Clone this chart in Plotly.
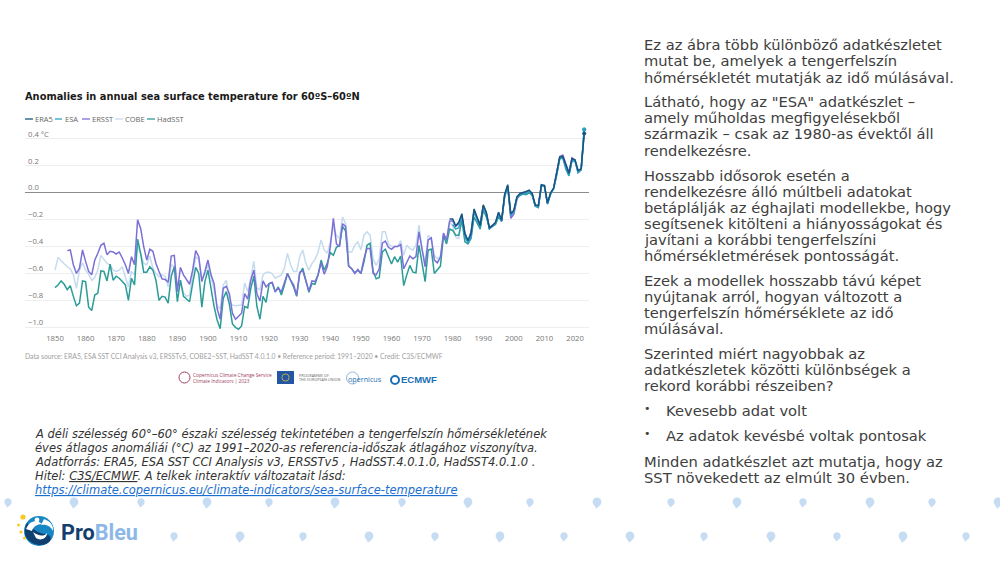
import plotly.graph_objects as go

W, H = 1000, 563

# ---------- data ----------
years_hadsst = list(range(1850, 2024))
hadsst = [-0.705,-0.685,-0.655,-0.68,-0.72,-0.69,-0.77,-0.84,-0.82,-0.655,-0.66,-0.85,-0.875,-0.76,-0.745,-0.58,-0.585,-0.655,-0.53,-0.65,
          -0.62,-0.635,-0.66,-0.685,-0.80,-0.635,-0.685,-0.345,-0.45,-0.59,-0.59,-0.55,-0.575,-0.65,-0.80,-0.77,-0.775,-0.82,-0.62,-0.55,
          -0.81,-0.65,-0.77,-0.79,-0.81,-0.675,-0.555,-0.60,-0.85,-0.66,-0.575,-0.71,-0.845,-0.945,-1.01,-0.785,-0.735,-0.83,-0.975,-1.0,
          -1.015,-0.99,-0.845,-0.855,-0.71,-0.62,-0.845,-0.94,-0.77,-0.815,-0.675,-0.67,-0.735,-0.70,-0.76,-0.685,-0.60,-0.65,-0.70,-0.77,
          -0.60,-0.56,-0.66,-0.74,-0.675,-0.68,-0.61,-0.50,-0.575,-0.525,-0.445,-0.465,-0.405,-0.39,-0.25,-0.285,-0.545,-0.565,-0.595,-0.575,
          -0.60,-0.515,-0.39,-0.375,-0.585,-0.64,-0.63,-0.44,-0.42,-0.475,-0.53,-0.475,-0.515,-0.47,-0.69,-0.61,-0.54,-0.59,-0.595,-0.39,
          -0.525,-0.66,-0.425,-0.42,-0.60,-0.57,-0.545,-0.315,-0.38,-0.27,-0.28,-0.315,-0.315,-0.205,-0.365,-0.38,-0.34,-0.18,-0.23,-0.27,
          -0.13,-0.18,-0.26,-0.25,-0.235,-0.18,-0.21,-0.03,0.04,-0.17,-0.14,-0.04,-0.02,-0.01,-0.015,0.0,-0.02,-0.10,-0.11,0.05,
          0.05,-0.08,-0.01,0.03,0.13,0.25,0.26,0.19,0.13,0.24,0.235,0.16,0.175,0.47]

years_ersst = list(range(1854, 2024))
ersst = [-0.43,-0.425,-0.535,-0.60,-0.56,-0.425,-0.51,-0.585,-0.61,-0.50,-0.45,-0.39,-0.375,-0.46,-0.435,-0.44,
         -0.455,-0.44,-0.485,-0.535,-0.60,-0.475,-0.535,-0.20,-0.265,-0.40,-0.50,-0.42,-0.435,-0.525,-0.585,-0.64,-0.645,-0.665,-0.47,-0.465,
         -0.735,-0.555,-0.61,-0.65,-0.68,-0.575,-0.43,-0.475,-0.66,-0.585,-0.50,-0.61,-0.675,-0.86,-0.94,-0.71,-0.695,-0.75,-0.895,-0.94,
         -0.92,-0.895,-0.75,-0.79,-0.65,-0.575,-0.75,-0.805,-0.655,-0.70,-0.675,-0.665,-0.735,-0.71,-0.735,-0.675,-0.60,-0.65,-0.685,-0.76,
         -0.59,-0.58,-0.66,-0.73,-0.655,-0.66,-0.61,-0.52,-0.605,-0.55,-0.40,-0.19,-0.38,-0.40,-0.23,-0.25,-0.545,-0.565,-0.60,-0.57,
         -0.60,-0.49,-0.415,-0.415,-0.60,-0.61,-0.565,-0.375,-0.36,-0.405,-0.42,-0.40,-0.40,-0.385,-0.565,-0.52,-0.47,-0.49,-0.475,-0.29,
         -0.43,-0.55,-0.35,-0.335,-0.50,-0.52,-0.48,-0.30,-0.35,-0.21,-0.21,-0.25,-0.23,-0.17,-0.30,-0.36,-0.29,-0.13,-0.195,-0.225,
         -0.10,-0.15,-0.265,-0.24,-0.225,-0.15,-0.21,-0.02,0.05,-0.19,-0.16,-0.05,-0.01,0.0,0.005,0.01,-0.01,-0.095,-0.10,0.055,
         0.05,-0.08,-0.005,0.035,0.14,0.27,0.28,0.21,0.15,0.26,0.24,0.15,0.17,0.45]

years_cobe = list(range(1850, 1985))
cobe = [-0.575,-0.48,-0.505,-0.53,-0.55,-0.565,-0.61,-0.71,-0.575,-0.52,-0.575,-0.605,-0.65,-0.63,-0.575,-0.465,-0.495,-0.525,-0.535,-0.575,
        -0.585,-0.575,-0.55,-0.635,-0.70,-0.585,-0.61,-0.39,-0.45,-0.525,-0.535,-0.47,-0.56,-0.60,-0.625,-0.61,-0.62,-0.70,-0.535,-0.55,
        -0.685,-0.65,-0.745,-0.77,-0.76,-0.625,-0.475,-0.495,-0.635,-0.61,-0.535,-0.625,-0.72,-0.845,-0.86,-0.685,-0.65,-0.80,-0.835,-0.84,
        -0.84,-0.835,-0.67,-0.735,-0.635,-0.51,-0.71,-0.72,-0.61,-0.59,-0.59,-0.60,-0.635,-0.625,-0.61,-0.56,-0.45,-0.535,-0.585,-0.585,
        -0.475,-0.425,-0.525,-0.575,-0.525,-0.495,-0.44,-0.35,-0.425,-0.45,-0.365,-0.255,-0.315,-0.34,-0.18,-0.23,-0.44,-0.44,-0.39,-0.365,
        -0.425,-0.315,-0.29,-0.315,-0.49,-0.54,-0.49,-0.29,-0.29,-0.38,-0.40,-0.40,-0.40,-0.355,-0.465,-0.39,-0.415,-0.425,-0.39,-0.24,
        -0.425,-0.515,-0.315,-0.34,-0.465,-0.49,-0.475,-0.33,-0.365,-0.22,-0.245,-0.33,-0.34,-0.18,-0.305]
years_cobe2 = list(range(1985, 2024))
cobe2 = [-0.36,-0.30,-0.13,-0.19,-0.24,-0.10,-0.15,-0.26,-0.245,-0.225,-0.15,-0.21,-0.02,0.05,-0.17,-0.14,-0.04,-0.01,0.0,0.0,
         0.01,-0.015,-0.09,-0.10,0.05,0.05,-0.08,-0.01,0.03,0.13,0.26,0.27,0.20,0.14,0.25,0.24,0.16,0.175,0.46]

years_esa = list(range(1980, 2024))
esa = [-0.235,-0.27,-0.26,-0.17,-0.33,-0.37,-0.33,-0.14,-0.20,-0.26,-0.10,-0.16,-0.27,-0.25,-0.23,-0.16,-0.215,-0.02,0.05,-0.165,
       -0.14,-0.035,-0.015,-0.005,-0.005,0.01,-0.01,-0.10,-0.105,0.05,0.05,-0.085,-0.01,0.03,0.13,0.255,0.26,0.175,0.125,0.24,
       0.235,0.15,0.17,0.47]

years_era5 = list(range(1979, 2024))
era5 = [-0.195,-0.195,-0.245,-0.22,-0.155,-0.305,-0.355,-0.305,-0.12,-0.18,-0.245,-0.09,-0.145,-0.26,-0.245,-0.22,-0.145,-0.205,-0.01,0.06,
        -0.155,-0.13,-0.03,-0.005,0.0,0.01,0.02,-0.005,-0.09,-0.095,0.06,0.055,-0.075,0.0,0.035,0.14,0.265,0.27,0.205,0.145,
        0.255,0.245,0.165,0.18,0.44]

series_names = ["ERA5", "ESA", "ERSST", "COBE", "HadSST"]
series_colors = ["#17557f", "#2f9fc8", "#7a70d6", "#c5dbef", "#2b9c98"]

x_ticks = list(range(1850, 2030, 10))
y_ticks = [0.4, 0.2, 0.0, -0.2, -0.4, -0.6, -0.8, -1.0]
y_tick_labels = ["0.4 °C", "0.2", "0.0", "−0.2", "−0.4", "−0.6", "−0.8", "−1.0"]

title_text = "Anomalies in annual sea surface temperature for 60ºS–60ºN"
source_text = "Data source: ERA5, ESA SST CCI Analysis v3, ERSSTv5, COBE2−SST, HadSST 4.0.1.0 • Reference period: 1991–2020 • Credit: C3S/ECMWF"

caption_lines = [
    (434, "<i>A déli szélesség 60°–60° északi szélesség tekintetében a tengerfelszín hőmérsékletének</i>"),
    (448, "<i>éves átlagos anomáliái (°C) az 1991–2020-as referencia-időszak átlagához viszonyítva.</i>"),
    (462, "<i>Adatforrás: ERA5, ESA SST CCI Analysis v3, ERSSTv5 , HadSST.4.0.1.0, HadSST4.0.1.0 .</i>"),
    (476, "<i>Hitel: <u>C3S/ECMWF</u>. A telkek interaktív változatait lásd:</i>"),
]
link_line = "https://climate.copernicus.eu/climate-indicators/sea-surface-temperature"

body_lines = [
    (44.5, 644, "Ez az ábra több különböző adatkészletet"),
    (60.5, 644, "mutat be, amelyek a tengerfelszín"),
    (77.5, 644, "hőmérsékletét mutatják az idő múlásával."),
    (101.5, 644, "Látható, hogy az \"ESA\" adatkészlet –"),
    (117.5, 644, "amely műholdas megfigyelésekből"),
    (133.5, 644, "származik – csak az 1980-as évektől áll"),
    (150.5, 644, "rendelkezésre."),
    (175.5, 644, "Hosszabb idősorok esetén a"),
    (191.5, 644, "rendelkezésre álló múltbeli adatokat"),
    (207.5, 644, "betáplálják az éghajlati modellekbe, hogy"),
    (223.5, 644, "segítsenek kitölteni a hiányosságokat és"),
    (239.5, 644, "javítani a korábbi tengerfelszíni"),
    (255.5, 644, "hőmérsékletmérések pontosságát."),
    (280.5, 644, "Ezek a modellek hosszabb távú képet"),
    (296.5, 644, "nyújtanak arról, hogyan változott a"),
    (312.5, 644, "tengerfelszín hőmérséklete az idő"),
    (328.5, 644, "múlásával."),
    (353.5, 644, "Szerinted miért nagyobbak az"),
    (369.5, 644, "adatkészletek közötti különbségek a"),
    (385.5, 644, "rekord korábbi részeiben?"),
    (410.5, 666, "Kevesebb adat volt"),
    (435.5, 666, "Az adatok kevésbé voltak pontosak"),
    (461.5, 644, "Minden adatkészlet azt mutatja, hogy az"),
    (477.5, 644, "SST növekedett az elmúlt 30 évben."),
]

drop_row1_x = [8, 74, 141, 207, 269, 335, 402, 468, 530, 597, 671, 737, 803, 870, 932, 998]
drop_row2_x = [174, 240, 303, 369, 435, 500, 564, 630, 704, 771, 837, 903, 966]

# ---------- helpers ----------
def px(x): return x / W
def py(y): return 1 - y / H

def text(x, y, s, size, color, family="DejaVu Sans", anchor="left"):
    return dict(xref="paper", yref="paper", x=px(x), y=py(y), text=s, showarrow=False,
                xanchor=anchor, yanchor="middle", align="left",
                font=dict(size=size, color=color, family=family),
                borderpad=0, borderwidth=0)

def path(cmds, fill, line=None, lw=0):
    out = []
    for c in cmds:
        if isinstance(c, str):
            out.append(c)
        else:
            out.append(f"{px(c[0]):.5f},{py(c[1]):.5f}")
    return dict(type="path", xref="paper", yref="paper", path=" ".join(out), fillcolor=fill,
                line=dict(width=lw, color=line or fill), layer="above")

def circle(cx, cy, r, fill, line=None, lw=0):
    return dict(type="circle", xref="paper", yref="paper", x0=px(cx - r), x1=px(cx + r),
                y0=py(cy + r), y1=py(cy - r), fillcolor=fill,
                line=dict(width=lw, color=line or fill), layer="above")

def rect(x0, y0, x1, y1, fill, lw=0):
    return dict(type="rect", xref="paper", yref="paper", x0=px(x0), x1=px(x1),
                y0=py(y1), y1=py(y0), fillcolor=fill, line=dict(width=lw, color=fill), layer="above")

def droplet(x, y, r):
    k = 0.55 * r
    return path(["M", (x - r, y), "C", (x - r, y - k), (x - k, y - r), (x, y - r),
                 "C", (x + k, y - r), (x + r, y - k), (x + r, y),
                 "C", (x + r, y + k), (x + 0.6 * r, y + r * 0.9), (x - 0.3 * r, y + r * 1.55),
                 "C", (x - 0.2 * r, y + r * 1.1), (x - r, y + k), (x - r, y), "Z"], "#c6dcf3")

# ---------- figure ----------
fig = go.Figure()
styles = dict(zip(series_names, series_colors))

def add(name, xs, ys, width=1.5):
    fig.add_trace(go.Scatter(x=xs, y=ys, mode="lines", name=name,
                             line=dict(color=styles[name], width=width), showlegend=False, hoverinfo="skip"))

add("COBE", years_cobe + years_cobe2, cobe + cobe2)
add("HadSST", years_hadsst, hadsst)
add("ERSST", years_ersst, ersst)
add("ESA", years_esa, esa)
add("ERA5", years_era5, era5)

for name, xs, ys in [("HadSST", years_hadsst, hadsst), ("ESA", years_esa, esa), ("ERA5", years_era5, era5)]:
    fig.add_trace(go.Scatter(x=xs[-1:], y=ys[-1:], mode="markers", showlegend=False, hoverinfo="skip",
                             marker=dict(size=4, color=styles[name])))

shapes, annos = [], []

# legend (compact key)
legend_x = [(25, 33, 35), (55, 62, 65), (82, 90, 92), (115, 123, 125), (147, 155, 156.5)]
for name, (a, b, t) in zip(series_names, legend_x):
    shapes.append(dict(type="line", xref="paper", yref="paper", x0=px(a), x1=px(b), y0=py(119), y1=py(119),
                       line=dict(color=styles[name], width=1.3), layer="above"))
    annos.append(text(t, 119, name, 7.5, "#666666", "Open Sans"))

annos.append(text(25, 356, source_text, 6.8, "#a0a0a0", "Lato"))

# partner logos
annos.append(text(193, 374.5, "Copernicus Climate Change Service", 4.8, "#a04060", "Open Sans"))
annos.append(text(193, 381, "Climate Indicators | 2023", 4.8, "#a04060", "Open Sans"))
shapes.append(circle(184.5, 377.5, 5.5, "rgba(0,0,0,0)", "#a04060", 1))
shapes.append(rect(277, 371, 294, 384, "#2456a4"))
shapes.append(circle(285.5, 377.5, 3.6, "rgba(0,0,0,0)", "#d9c23c", 0.8))
annos.append(text(299, 375, "PROGRAMME OF", 3.8, "#666666", "Open Sans"))
annos.append(text(299, 379.5, "THE EUROPEAN UNION", 3.8, "#666666", "Open Sans"))
annos.append(text(348, 378.5, "opernicus", 7.2, "#2a6fb0", "Open Sans"))
shapes.append(circle(352.5, 378, 6, "rgba(0,0,0,0)", "#7aa6d6", 0.8))
shapes.append(circle(395, 380, 4, "rgba(0,0,0,0)", "#1a6fb5", 2))
annos.append(text(401, 380, "<b>ECMWF</b>", 9.5, "#1a6fb5", "Liberation Sans"))

# caption
for y, s in caption_lines:
    annos.append(text(35, y, s, 11.5, "#333333"))
annos.append(text(35, 490, f"<i><u>{link_line}</u></i>", 11.5, "#1a6fd0"))

# body text
for y, x, s in body_lines:
    annos.append(text(x, y, s, 14.7, "#404040"))
for y in (408, 433):
    annos.append(text(644, y, "•", 11, "#404040"))

# droplets
for i, x in enumerate(drop_row1_x):
    shapes.append(droplet(x, 502, 4.4 if i % 2 else 3.7))
for i, x in enumerate(drop_row2_x):
    shapes.append(droplet(x, 536, 3.7 if i % 2 == 0 else 4.4))

# ProBleu logo
shapes.append(circle(39, 531, 15, "#1787c4"))
shapes.append(path(["M", (27, 523), "C", (32, 528), (37, 533), (45, 534), "C", (50, 535), (52, 537), (50, 541),
                    "C", (45, 547), (33, 547), (26, 537), "C", (24, 532), (25, 527), (27, 523), "Z"], "#0e3f6f"))
shapes.append(path(["M", (26, 529), "C", (30, 519), (38, 520), (42, 524), "C", (37, 524), (33, 527), (32, 531),
                    "C", (30, 530), (28, 530), (26, 529), "Z"], "#ffffff"))
shapes.append(path(["M", (33, 532), "C", (38, 536), (44, 537), (47, 533), "C", (47, 539), (40, 541), (36, 538), "Z"], "#ffffff"))
shapes.append(path(["M", (44, 519), "C", (50, 521), (54, 526), (53, 531), "C", (51, 527), (47, 524), (41, 525), "Z"], "#ffffff"))
shapes.append(circle(37, 520, 2.4, "#ffffff"))
for (sx, sy, r) in [(23, 517, 2.6), (18.5, 525, 1.5), (21, 532, 1.6), (24.5, 538, 1.5)]:
    shapes.append(circle(sx, sy, r, "#f7c926"))
annos.append(text(60.5, 532, "<b>Pro<span style=\"color:#8db8e6\">Bleu</span></b>", 21.6, "#123f6d", "Roboto"))

x_left, x_right = 25, 589
yr_per_px = 1 / 3.059
y_top_px, y_bot_px = 125.5, 332.7

fig.update_layout(
    width=W, height=H, margin=dict(l=0, r=0, t=0, b=0, autoexpand=False),
    paper_bgcolor="white", plot_bgcolor="white", showlegend=False,
    title=dict(text=f"<b>{title_text}</b>", x=px(25), xanchor="left", y=py(96.5), yanchor="middle",
               xref="paper", yref="paper", font=dict(size=9.85, color="#1a1a1a", family="DejaVu Sans")),
    xaxis=dict(domain=[px(x_left), px(x_right)], range=[1850 - 30 * yr_per_px, 1850 + 534 * yr_per_px],
               tickmode="array", tickvals=x_ticks, ticktext=[str(v) for v in x_ticks],
               showgrid=False, zeroline=False, showline=False, ticks="",
               tickfont=dict(size=7.7, color="#777777", family="Open Sans")),
    yaxis=dict(domain=[py(y_bot_px), py(y_top_px)], range=[-1.04, 0.5],
               tickmode="array", tickvals=y_ticks, ticktext=y_tick_labels,
               ticklabelposition="inside", ticklabelshift=-5, ticks="",
               showgrid=True, gridcolor="#eeeeee", gridwidth=1,
               zeroline=True, zerolinecolor="#8c8c8c", zerolinewidth=1.3, showline=False,
               tickfont=dict(size=7.7, color="#777777", family="Open Sans")),
    shapes=shapes, annotations=annos,
)

fig.write_html("out.html", config={"displayModeBar": False},
               post_script="document.body.style.margin='0';document.body.style.overflow='hidden';")
